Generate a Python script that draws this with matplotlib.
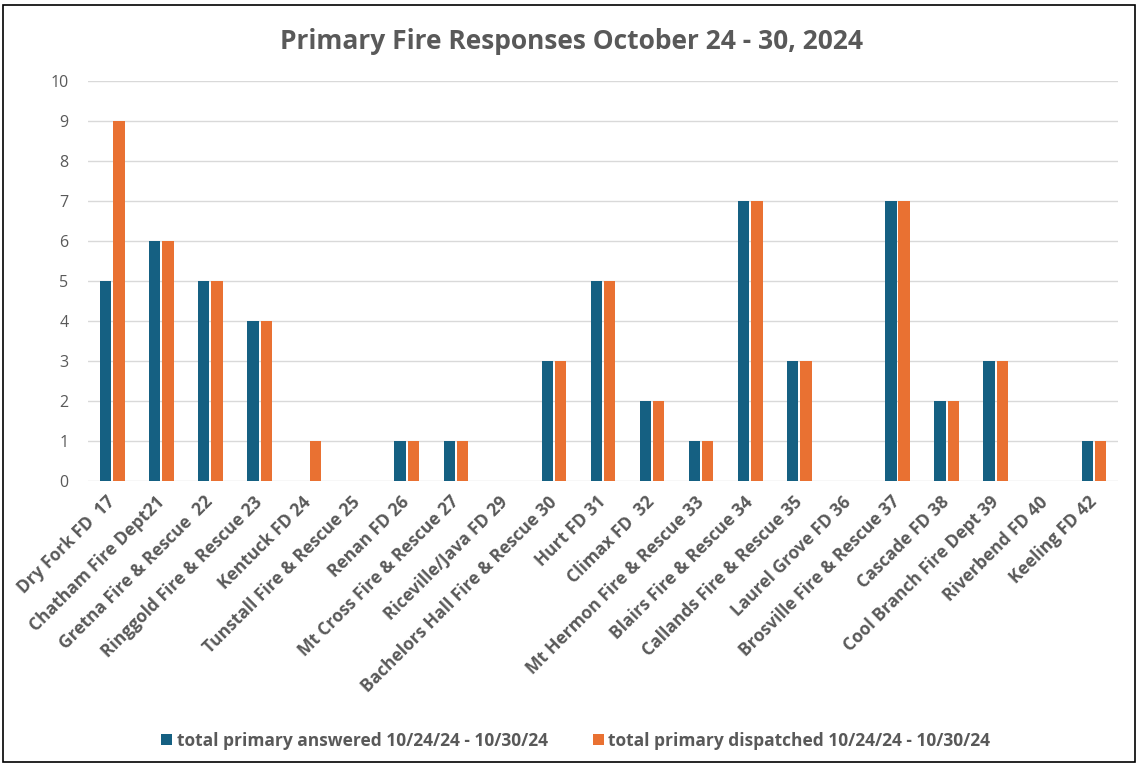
import numpy as np
import matplotlib.pyplot as plt
from matplotlib.patches import Rectangle

plt.rcParams['font.family'] = ['Open Sans', 'DejaVu Sans']

# data
stations = [
    "Dry Fork FD  17", "Chatham Fire Dept21", "Gretna Fire & Rescue  22",
    "Ringgold Fire & Rescue 23", "Kentuck FD 24", "Tunstall Fire & Rescue 25",
    "Renan FD 26", "Mt Cross Fire & Rescue 27", "Riceville/Java FD 29",
    "Bachelors Hall Fire & Rescue 30", "Hurt FD 31", "Climax FD  32",
    "Mt Hermon Fire & Rescue 33", "Blairs Fire & Rescue 34",
    "Callands Fire & Rescue 35", "Laurel Grove FD 36",
    "Brosville Fire & Rescue 37", "Cascade FD 38", "Cool Branch Fire Dept 39",
    "Riverbend FD 40", "Keeling FD 42",
]
answered = [5, 6, 5, 4, 0, 0, 1, 1, 0, 3, 5, 2, 1, 7, 3, 0, 7, 2, 3, 0, 1]
dispatched = [9, 6, 5, 4, 1, 0, 1, 1, 0, 3, 5, 2, 1, 7, 3, 0, 7, 2, 3, 0, 1]
label_answered = "total primary answered 10/24/24 - 10/30/24"
label_dispatched = "total primary dispatched 10/24/24 - 10/30/24"

BLUE = "#156082"
ORANGE = "#E97132"
GREY = "#595959"

fig = plt.figure(figsize=(11.4, 7.65), dpi=100)
fig.patch.set_facecolor("white")
ax = fig.add_axes([0.077, 0.371, 0.904, 0.523])

x = np.arange(len(stations))
w = 0.23
ax.bar(x - 0.135, answered, width=w, color=BLUE, label=label_answered, zorder=3)
ax.bar(x + 0.135, dispatched, width=w, color=ORANGE, label=label_dispatched, zorder=3)

ax.set_xlim(-0.5, len(stations) - 0.5)
ax.set_ylim(0, 10)
ax.set_yticks(range(0, 11))
ax.yaxis.grid(True, color="#d9d9d9", linewidth=1, zorder=0)
for s in ax.spines.values():
    s.set_visible(False)
ax.tick_params(axis="both", length=0, colors=GREY, labelsize=11.5)
ax.tick_params(axis="y", pad=14)

ax.set_xticks(x)
ax.set_xticklabels(stations, rotation=45, ha="right", va="center",
                   rotation_mode="anchor", fontweight="bold", fontsize=12.5,
                   color=GREY)
ax.tick_params(axis="x", pad=13)

fig.text(0.501, 0.946, "Primary Fire Responses October 24 - 30, 2024",
         ha="center", va="center", fontsize=19, fontweight="bold", color=GREY)

leg = fig.legend(loc="center", bbox_to_anchor=(0.505, 0.032), ncol=2,
                 frameon=False, fontsize=12.5, handlelength=0.65,
                 handleheight=0.65, handletextpad=0.25, columnspacing=2.6)
for t in leg.get_texts():
    t.set_color(GREY)
    t.set_fontweight("bold")

# outer chart border
fig.patches.append(Rectangle((0.003, 0.004), 0.993, 0.99, transform=fig.transFigure,
                             fill=False, edgecolor="black", linewidth=1.2))

fig.savefig("out.png", dpi=100)
